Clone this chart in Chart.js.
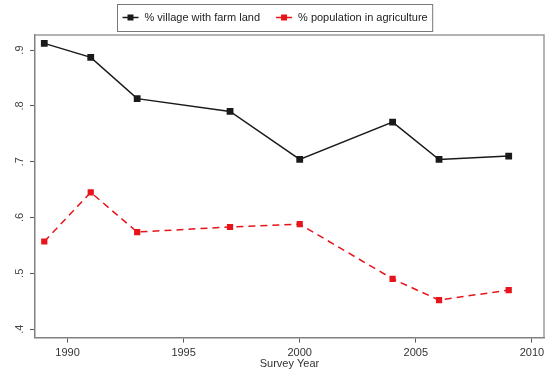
<!DOCTYPE html>
<html>
<head>
<meta charset="utf-8">
<script src="https://cdn.jsdelivr.net/npm/chart.js@4/dist/chart.umd.min.js"></script>
<style>
  html, body { margin: 0; padding: 0; background: #fff; }
  #wrap { width: 552px; height: 375px; }
</style>
</head>
<body>
<div id="wrap"><canvas id="c" width="552" height="375"></canvas></div>
<script>
// Survey years and shares
const surveyYears = [1989, 1991, 1993, 1997, 2000, 2004, 2006, 2009];
const villageFarmLand = [0.912, 0.887, 0.813, 0.790, 0.704, 0.771, 0.704, 0.710];
const popAgriculture = [0.557, 0.645, 0.574, 0.583, 0.588, 0.490, 0.452, 0.470];

const xTickValues = [1990, 1995, 2000, 2005, 2010];
const yTickValues = [0.4, 0.5, 0.6, 0.7, 0.8, 0.9];
const yTickLabels = ['.4', '.5', '.6', '.7', '.8', '.9'];

const seriesNames = ['% village with farm land', '% population in agriculture'];

const FONT = "'Liberation Sans', Arial, sans-serif";
const BLACK = '#1a1a1a';
const RED = '#e8141b';

function toPoints(xs, ys) {
  return xs.map((x, i) => ({ x: x, y: ys[i] }));
}

// Rotated y tick labels, top/right frame lines, and a boxed legend
const decorations = {
  id: 'decorations',
  afterDraw(chart) {
    const ctx = chart.ctx;
    const area = chart.chartArea;
    const yScale = chart.scales.y;

    // frame top and right
    ctx.save();
    ctx.strokeStyle = '#9a9a9a';
    ctx.lineWidth = 1.5;
    ctx.beginPath();
    ctx.moveTo(area.left, area.top);
    ctx.lineTo(area.right, area.top);
    ctx.lineTo(area.right, area.bottom);
    ctx.stroke();
    ctx.restore();

    // y tick labels, reading upward
    ctx.save();
    ctx.fillStyle = '#444';
    ctx.font = '11px ' + FONT;
    ctx.textAlign = 'center';
    ctx.textBaseline = 'middle';
    yTickValues.forEach((v, i) => {
      const y = yScale.getPixelForValue(v);
      ctx.save();
      ctx.translate(20, y);
      ctx.rotate(-Math.PI / 2);
      ctx.fillText(yTickLabels[i], 0, 0);
      ctx.restore();
    });
    ctx.restore();

    // legend
    ctx.save();
    ctx.font = '11px ' + FONT;
    const sets = chart.data.datasets;
    const keyW = 16, keyGap = 6, itemGap = 16, padX = 5;
    const w0 = ctx.measureText(sets[0].label).width;
    const w1 = ctx.measureText(sets[1].label).width;
    const boxW = padX * 2 + keyW + keyGap + w0 + itemGap + keyW + keyGap + w1;
    const boxH = 27;
    const boxX = Math.round(275 - boxW / 2) + 0.5;
    const boxY = 4.5;
    ctx.fillStyle = '#fff';
    ctx.fillRect(boxX, boxY, boxW, boxH);
    ctx.strokeStyle = '#777';
    ctx.lineWidth = 1;
    ctx.strokeRect(boxX, boxY, boxW, boxH);
    const cy = boxY + 13;
    let x = boxX + padX;
    sets.forEach((ds, i) => {
      ctx.strokeStyle = ds.borderColor;
      ctx.lineWidth = 1.5;
      ctx.setLineDash([]);
      ctx.beginPath();
      ctx.moveTo(x, cy);
      ctx.lineTo(x + keyW, cy);
      ctx.stroke();
      ctx.fillStyle = ds.pointBackgroundColor;
      ctx.fillRect(x + keyW / 2 - 3, cy - 3, 6, 6);
      ctx.fillStyle = '#222';
      ctx.textAlign = 'left';
      ctx.textBaseline = 'middle';
      ctx.fillText(ds.label, x + keyW + keyGap, cy);
      x += keyW + keyGap + (i === 0 ? w0 : w1) + itemGap;
    });
    ctx.restore();
  }
};

new Chart(document.getElementById('c'), {
  type: 'line',
  data: {
    datasets: [
      {
        label: seriesNames[0],
        data: toPoints(surveyYears, villageFarmLand),
        borderColor: BLACK,
        backgroundColor: BLACK,
        pointBackgroundColor: BLACK,
        pointBorderColor: BLACK,
        borderWidth: 1.5,
        pointStyle: 'rect',
        pointRadius: 4.8,
        pointBorderWidth: 0,
        tension: 0
      },
      {
        label: seriesNames[1],
        data: toPoints(surveyYears, popAgriculture),
        borderColor: RED,
        backgroundColor: RED,
        pointBackgroundColor: RED,
        pointBorderColor: RED,
        borderWidth: 1.5,
        borderDash: [7, 5],
        pointStyle: 'rect',
        pointRadius: 4.4,
        pointBorderWidth: 0,
        tension: 0
      }
    ]
  },
  options: {
    responsive: false,
    animation: false,
    devicePixelRatio: 1,
    layout: { padding: { top: 35, right: 8, left: 0, bottom: 0 } },
    plugins: {
      legend: { display: false },
      tooltip: { enabled: false }
    },
    scales: {
      x: {
        type: 'linear',
        min: 1988.6,
        max: 2010.52,
        afterBuildTicks(scale) { scale.ticks = xTickValues.map(v => ({ value: v })); },
        afterFit(scale) { scale.height = 37.5; },
        grid: { drawOnChartArea: false, drawTicks: true, tickLength: 5, color: '#555', lineWidth: 1 },
        border: { display: true, color: '#808080', width: 1.5 },
        ticks: {
          padding: 4,
          color: '#333',
          font: { family: FONT, size: 11 },
          maxRotation: 0,
          callback: v => String(v)
        },
        title: {
          display: true,
          text: 'Survey Year',
          color: '#333',
          font: { family: FONT, size: 11 },
          padding: { top: 0, bottom: 4 }
        }
      },
      y: {
        type: 'linear',
        min: 0.385,
        max: 0.927,
        afterBuildTicks(scale) { scale.ticks = yTickValues.map(v => ({ value: v })); },
        afterFit(scale) { scale.width = 35; },
        grid: { drawOnChartArea: false, drawTicks: true, tickLength: 5, color: '#555', lineWidth: 1 },
        border: { display: true, color: '#808080', width: 1.5 },
        ticks: { display: false }
      }
    }
  },
  plugins: [decorations]
});
</script>
</body>
</html>
